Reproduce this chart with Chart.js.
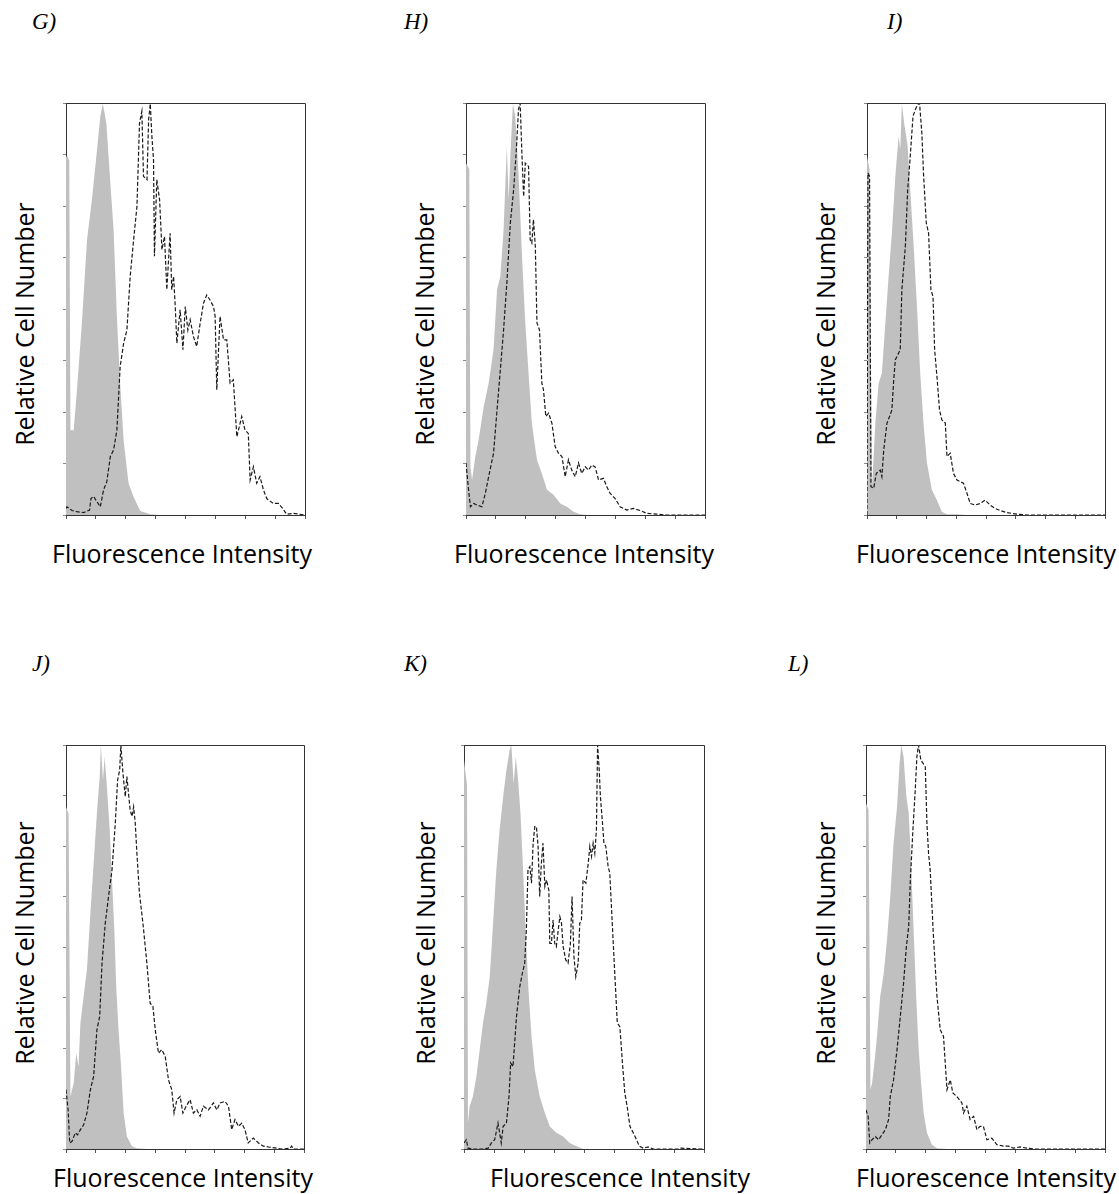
<!DOCTYPE html>
<html>
<head>
<meta charset="utf-8">
<script src="https://cdn.jsdelivr.net/npm/chart.js@4.4.1/dist/chart.umd.min.js"></script>
<style>
body { margin: 0; background: #fff; }
#page { position: relative; width: 1119px; height: 1194px; overflow: hidden; background: #fff; }
.panel { position: absolute; }
.tag { position: absolute; font-family: 'Liberation Serif', 'Times New Roman', serif; font-style: italic; font-size: 23px; line-height: 26px; color: #000; }
.xlab, .ylab { position: absolute; font-family: 'Open Sans', sans-serif; font-size: 25px; line-height: 30px; color: #000; white-space: nowrap; }
.xlab { transform: translate(-50%, -50%); }
.ylab { transform: translate(-50%, -50%) rotate(-90deg); }
</style>
</head>
<body>
<div id="page"></div>
<script>
// x = fluorescence channel (0-1024), y = % of max count
const xTitle = 'Fluorescence Intensity';
const yTitle = 'Relative Cell Number';
const panelTags = ['G)', 'H)', 'I)', 'J)', 'K)', 'L)'];

// G
const gFillX = [0, 4, 14, 19, 33, 47, 68, 90, 111, 133, 147, 158, 173, 190, 204, 218, 232, 247, 268, 289, 318, 361, 400];
const gFillY = [87, 87.4, 86, 20.6, 20.6, 30.4, 46.6, 66.8, 76.5, 88.7, 96.8, 99.8, 95.1, 80.6, 69.2, 48.2, 32, 18, 7.7, 4.5, 1, 0.2, 0];
const gLineX = [0, 4, 26, 47, 76, 101, 107, 118, 133, 147, 161, 175, 190, 204, 218, 232, 247, 261, 275, 289, 304, 315, 325, 332, 347, 354, 361, 368, 375, 379, 389, 401, 411, 422, 432, 446, 453, 461, 468, 475, 489, 501, 511, 522, 532, 546, 560, 575, 589, 603, 617, 632, 639, 646, 660, 675, 689, 703, 717, 732, 753, 767, 781, 789, 803, 817, 831, 846, 860, 888, 910, 928, 945, 974, 1024];
const gLineY = [1.6, 2.0, 1.1, 0.8, 0.6, 1.2, 4.0, 4.5, 3.2, 2.0, 6.1, 8.1, 14.2, 15.8, 20.6, 36.0, 41.7, 44.9, 57.9, 66.4, 74.9, 95.1, 98.0, 82.2, 81.4, 96.0, 99.8, 91.9, 86.2, 62.8, 81.4, 76.5, 64.4, 67.6, 54.7, 68.4, 54.7, 57.9, 50.6, 41.7, 49.8, 40.1, 50.6, 44.9, 47.4, 43.3, 40.9, 46.6, 51.4, 53.4, 52.2, 50.6, 48.2, 30.4, 48.2, 42.5, 42.5, 32.0, 32.8, 19.0, 23.9, 20.6, 19.8, 8.5, 11.7, 7.7, 9.3, 6.1, 4.0, 2.8, 2.8, 1.6, 0.2, 0.4, 0];

// H
const hFillX = [0, 4, 14, 19, 26, 40, 54, 76, 97, 118, 133, 147, 161, 175, 183, 190, 201, 211, 225, 240, 254, 268, 282, 304, 325, 347, 375, 404, 432, 461, 489, 518];
const hFillY = [85.4, 85.4, 84, 11.7, 8.5, 14.2, 18.2, 26.3, 32.0, 40.1, 54.7, 57.9, 69.2, 89.5, 76.5, 87.0, 99.8, 96.8, 83.0, 62.8, 46.6, 34.4, 22.3, 13.4, 10.1, 6.1, 4.9, 2.8, 2.0, 0.8, 0.2, 0];
const hLineX = [0, 11, 19, 33, 47, 68, 83, 97, 118, 133, 147, 161, 175, 190, 204, 215, 225, 232, 240, 247, 254, 268, 275, 282, 289, 297, 304, 315, 325, 332, 342, 354, 368, 382, 396, 411, 425, 439, 453, 468, 482, 496, 511, 525, 539, 553, 568, 589, 603, 617, 639, 660, 689, 717, 746, 774, 817, 860, 1024];
const hLineY = [12.6, 6.1, 2.0, 2.8, 2.4, 2.0, 5.3, 9.3, 15.0, 25.5, 35.2, 44.9, 56.3, 70.9, 78.9, 87.9, 98.4, 100, 87.0, 77.3, 85.4, 84.6, 66.8, 66.0, 71.7, 65.2, 46.6, 44.9, 32.0, 30.4, 23.9, 24.7, 22.3, 16.6, 15.0, 14.2, 9.3, 13.4, 10.9, 9.3, 12.6, 10.1, 11.7, 10.9, 12.1, 11.7, 8.5, 8.9, 6.9, 5.3, 4.0, 2.0, 1.2, 1.6, 1.1, 0.4, 0.2, 0, 0];

// I
const iFillX = [0, 4, 11, 21, 36, 50, 64, 79, 93, 107, 122, 136, 143, 150, 160, 175, 186, 200, 215, 229, 243, 258, 279, 301, 322, 344, 387, 430];
const iFillY = [87, 87, 84, 6.1, 22.3, 32, 34.4, 46.6, 57.9, 68.4, 82.2, 91.9, 88.7, 99.8, 95.1, 89.5, 78.9, 66, 50.6, 34.4, 22.3, 12.6, 6.1, 3.6, 0.8, 0.2, 0.2, 0];
const iLineX = [0, 4, 11, 17, 29, 40, 57, 64, 72, 86, 97, 107, 115, 122, 136, 143, 150, 165, 175, 186, 198, 208, 218, 226, 236, 243, 255, 265, 275, 284, 291, 301, 312, 322, 337, 344, 358, 372, 387, 401, 415, 430, 444, 465, 487, 508, 530, 551, 573, 601, 644, 687, 1024];
const iLineY = [0, 83, 82.2, 6.9, 6.5, 10.1, 10.9, 9.3, 15.8, 22.3, 23.9, 25.5, 32.8, 37.7, 39.3, 40.1, 54.7, 65.2, 78.9, 87, 96.8, 98.4, 99.6, 100, 92.7, 83, 70.9, 68.4, 54.7, 53, 40.1, 33.6, 25.5, 23.1, 22.3, 14.2, 15, 10.1, 8.5, 8.1, 7.7, 5.3, 2.8, 2.4, 2.8, 3.6, 2.4, 1.6, 1.1, 0.6, 0.2, 0, 0];

// J
const jFillX = [0, 4, 11, 19, 33, 44, 54, 62, 76, 90, 105, 119, 133, 145, 150, 159, 166, 176, 188, 198, 208, 216, 226, 236, 248, 262, 284, 305, 348];
const jFillY = [84.7, 84.7, 83, 13, 16.3, 23.7, 20.4, 31.2, 37.8, 44.4, 58.4, 70.7, 83.1, 92.2, 100, 91.3, 97.1, 89.7, 79, 66.6, 54.2, 40.2, 29.5, 21.3, 8.9, 3.1, 0.7, 0.2, 0];
const jLineX = [0, 9, 16, 26, 40, 50, 62, 76, 90, 105, 119, 133, 145, 155, 169, 183, 198, 212, 222, 231, 236, 245, 255, 262, 269, 276, 284, 291, 298, 305, 316, 331, 348, 362, 374, 384, 398, 412, 427, 441, 455, 465, 477, 491, 503, 517, 534, 548, 563, 577, 591, 613, 634, 649, 663, 684, 699, 713, 727, 742, 756, 770, 784, 806, 828, 849, 871, 906, 928, 964, 971, 978, 1024];
const jLineY = [14.7, 9.7, 1.5, 1.9, 4, 3.5, 4.8, 6, 8.9, 14.7, 18, 29.5, 32.8, 46, 55.9, 62.5, 69.1, 80.6, 91.3, 93.8, 100, 93, 87.2, 92.2, 88, 83.9, 82.3, 84.7, 80.6, 73.2, 63.3, 55.9, 46, 36.1, 35.3, 29.5, 23.7, 24.6, 22.9, 17.1, 14.7, 8.9, 12.2, 13, 8.9, 10.6, 12.2, 8.9, 9.7, 8.1, 10.6, 9.7, 11.4, 9.7, 11.4, 11.8, 10.6, 4.8, 7.3, 5.6, 6.4, 4.8, 1.5, 2.7, 1.5, 0.7, 0.5, 0.2, 0, 0.2, 0.7, 0, 0];

// K
const kFillX = [0, 4, 13, 17, 24, 38, 53, 67, 81, 95, 110, 124, 138, 152, 167, 181, 195, 202, 212, 221, 231, 241, 252, 263, 275, 288, 302, 323, 345, 366, 394, 423, 451, 480, 508];
const kFillY = [96.3, 96.3, 90, 6.4, 10.6, 13, 18, 24.6, 31.2, 36.1, 42.7, 55.9, 69.1, 79, 87.2, 93.8, 98.8, 100, 90.5, 97.1, 91.3, 83.1, 69.1, 54.2, 39.4, 27.9, 19.6, 13, 8.9, 5.6, 4, 3.1, 1.5, 0.7, 0];
const kLineX = [0, 10, 17, 38, 81, 103, 117, 131, 145, 152, 159, 167, 181, 192, 199, 209, 224, 238, 249, 259, 266, 273, 281, 288, 295, 302, 309, 316, 323, 330, 337, 345, 352, 362, 366, 373, 380, 387, 394, 402, 409, 416, 423, 434, 444, 454, 461, 469, 477, 487, 494, 501, 508, 520, 530, 537, 544, 551, 558, 565, 570, 577, 582, 591, 597, 605, 615, 622, 634, 644, 654, 665, 676, 686, 696, 708, 722, 736, 748, 765, 786, 807, 914, 921, 1007, 1024];
const kLineY = [1.5, 2.3, 0.2, 0, 0, 0.2, 1.5, 2.3, 6.4, 4, 1.5, 5.6, 6.4, 13, 21.3, 20.4, 32.8, 40.2, 43.5, 46, 54.2, 69.1, 69.9, 65.8, 75.7, 79.8, 79.8, 74.9, 62.5, 70.7, 75.7, 65, 66.6, 64.1, 50.9, 50.9, 56.7, 50.9, 50.1, 54.2, 57.5, 55.9, 50.1, 46.8, 46, 50.9, 62.5, 47.7, 42.7, 46, 55.9, 56.7, 66.6, 65.8, 70.7, 74.9, 72.4, 75.7, 73.2, 79, 100, 93.8, 87.2, 80.6, 75.7, 74.9, 69.9, 68.3, 54.2, 42.7, 31.2, 30.3, 21.3, 13.9, 10.6, 5.6, 4, 2.3, 0.7, 0.2, 0.5, 0, 0, 0.2, 0, 0];

// L
const lFillX = [0, 4, 11, 19, 26, 36, 47, 61, 76, 90, 104, 118, 133, 144, 151, 161, 173, 183, 193, 204, 215, 225, 235, 247, 261, 282, 304, 347];
const lFillY = [85.6, 85.6, 84, 14.7, 16.3, 21.3, 27.9, 37.8, 43.5, 51.8, 62.5, 75.7, 84.7, 95.5, 100, 97.1, 87.2, 83.1, 70.7, 54.2, 37.8, 25.4, 17.1, 8.9, 4, 1.1, 0.2, 0];
const lLineX = [0, 9, 16, 26, 40, 54, 68, 83, 97, 104, 118, 133, 147, 161, 173, 183, 190, 201, 211, 218, 225, 235, 244, 254, 261, 268, 275, 289, 304, 318, 332, 347, 361, 372, 389, 411, 418, 432, 446, 461, 475, 489, 503, 518, 539, 560, 589, 610, 632, 660, 689, 717, 1024];
const lLineY = [9.7, 8.1, 1.5, 2.3, 3.1, 2.3, 3.5, 4.8, 7.3, 13, 17.1, 24.6, 32.8, 41.1, 50.1, 55.1, 66.6, 79, 88.9, 97.1, 100, 96.3, 95.5, 94.6, 80.6, 73.2, 69.1, 52.6, 37.8, 29.5, 27.9, 14.7, 17.1, 13.9, 13, 11.4, 8.9, 10.6, 7.3, 8.1, 4.8, 5.6, 5.6, 2.3, 2.7, 1.1, 0.7, 0.7, 0.2, 0.5, 0.2, 0, 0];

// plot box of each panel and where its texts sit
const panels = [
    { tag: 0, fx: gFillX, fy: gFillY, lx: gLineX, ly: gLineY, box: [66, 103, 239, 412], tagAt: [32, 22], yAt: [24, 324], xAt: [182, 553] },
    { tag: 1, fx: hFillX, fy: hFillY, lx: hLineX, ly: hLineY, box: [466, 103, 239, 412], tagAt: [404, 22], yAt: [424, 324], xAt: [584, 553] },
    { tag: 2, fx: iFillX, fy: iFillY, lx: iLineX, ly: iLineY, box: [867, 103, 238, 412], tagAt: [887, 22], yAt: [825, 324], xAt: [986, 553] },
    { tag: 3, fx: jFillX, fy: jFillY, lx: jLineX, ly: jLineY, box: [66, 745, 238, 404], tagAt: [32, 664], yAt: [24, 943], xAt: [183, 1177] },
    { tag: 4, fx: kFillX, fy: kFillY, lx: kLineX, ly: kLineY, box: [464, 745, 240, 404], tagAt: [404, 664], yAt: [425, 943], xAt: [620, 1177] },
    { tag: 5, fx: lFillX, fy: lFillY, lx: lLineX, ly: lLineY, box: [866, 745, 239, 404], tagAt: [788, 664], yAt: [825, 943], xAt: [986, 1177] }
];

function toPoints(xs, ys) {
    return xs.map(function (x, i) { return { x: x, y: ys[i] }; });
}

// top and right edges of the frame (left/bottom come from the axes)
const boxFrame = {
    id: 'boxFrame',
    afterDraw(chart) {
        const a = chart.chartArea;
        const ctx = chart.ctx;
        ctx.save();
        ctx.strokeStyle = '#333';
        ctx.lineWidth = 1;
        ctx.beginPath();
        ctx.moveTo(a.left, Math.round(a.top) + 0.5);
        ctx.lineTo(Math.round(a.right) + 0.5, Math.round(a.top) + 0.5);
        ctx.lineTo(Math.round(a.right) + 0.5, a.bottom);
        ctx.stroke();
        ctx.restore();
    }
};

const page = document.getElementById('page');

function addText(cls, txt, x, y) {
    const d = document.createElement('div');
    d.className = cls;
    d.textContent = txt;
    d.style.left = x + 'px';
    d.style.top = y + 'px';
    page.appendChild(d);
}

panels.forEach(function (p) {
    const padL = 8, padT = 6;
    const w = p.box[2] + 16, h = p.box[3] + 14;
    const wrap = document.createElement('div');
    wrap.className = 'panel';
    wrap.style.left = (p.box[0] - padL) + 'px';
    wrap.style.top = (p.box[1] - padT) + 'px';
    const cv = document.createElement('canvas');
    cv.width = w;
    cv.height = h;
    cv.style.width = w + 'px';
    cv.style.height = h + 'px';
    wrap.appendChild(cv);
    page.appendChild(wrap);

    new Chart(cv, {
        type: 'line',
        data: {
            datasets: [{
                label: 'stained',
                data: toPoints(p.lx, p.ly),
                borderColor: '#1a1a1a',
                borderWidth: 1.2,
                borderDash: [4, 2],
                pointRadius: 0,
                fill: false,
                tension: 0
            }, {
                label: 'control',
                data: toPoints(p.fx, p.fy),
                borderWidth: 0,
                borderColor: 'rgba(0,0,0,0)',
                backgroundColor: '#c0c0c0',
                pointRadius: 0,
                fill: 'origin',
                tension: 0
            }]
        },
        options: {
            responsive: false,
            animation: false,
            devicePixelRatio: 1,
            layout: { padding: { left: padL - 3, top: padT, right: 8, bottom: 4 } },
            plugins: { legend: { display: false }, tooltip: { enabled: false } },
            scales: {
                x: {
                    type: 'linear', min: 0, max: 1024,
                    ticks: { display: false, stepSize: 128 },
                    grid: { drawOnChartArea: false, drawTicks: true, tickLength: 4, color: '#555' },
                    border: { color: '#333', width: 1 }
                },
                y: {
                    type: 'linear', min: 0, max: 100,
                    ticks: { display: false, stepSize: 12.5 },
                    grid: { drawOnChartArea: false, drawTicks: true, tickLength: 3, color: '#888' },
                    border: { color: '#333', width: 1 }
                }
            }
        },
        plugins: [boxFrame]
    });

    addText('tag', panelTags[p.tag], p.tagAt[0], p.tagAt[1] - 13);
    addText('ylab', yTitle, p.yAt[0], p.yAt[1]);
    addText('xlab', xTitle, p.xAt[0], p.xAt[1]);
});
</script>
</body>
</html>
